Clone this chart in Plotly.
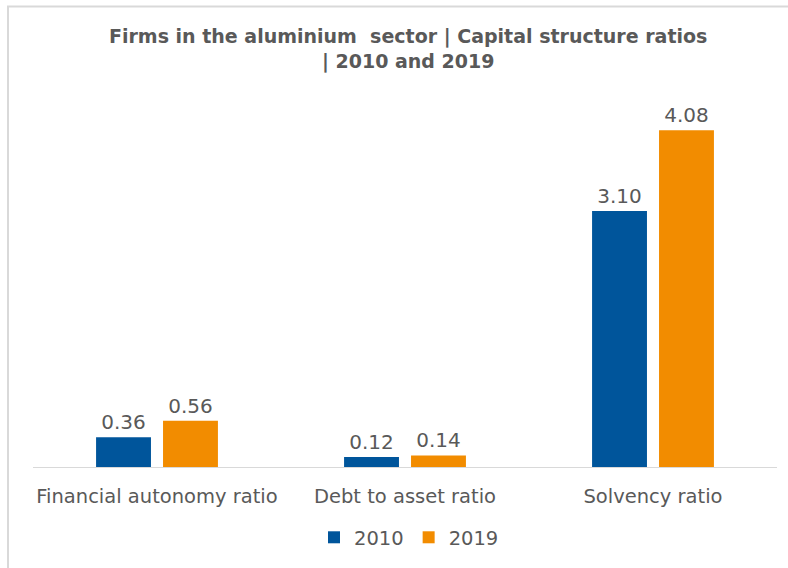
import plotly.graph_objects as go

categories = ["Financial autonomy ratio", "Debt to asset ratio", "Solvency ratio"]
values_2010 = [0.36, 0.12, 3.10]
values_2019 = [0.56, 0.14, 4.08]
series_names = ["2010", "2019"]
title_text = "<b>Firms in the aluminium  sector | Capital structure ratios<br>| 2010 and 2019</b>"

BLUE = "#00559B"
ORANGE = "#F28C00"
TEXT = "#595959"
FONT = "DejaVu Sans"

fig = go.Figure()
for name, vals, color in [(series_names[0], values_2010, BLUE),
                          (series_names[1], values_2019, ORANGE)]:
    fig.add_trace(go.Bar(
        x=categories, y=vals, name=name,
        marker=dict(color=color, line=dict(width=0)),
        texttemplate="%{y:.2f}", textposition="outside",
        textfont=dict(family=FONT, size=20, color=TEXT),
        cliponaxis=False,
    ))

L, R, T, B = 33, 11, 100, 99
W, H = 788, 568
pw, ph = W - L - R, H - T - B

fig.update_layout(
    width=W, height=H,
    margin=dict(l=L, r=R, t=T, b=B),
    paper_bgcolor="white", plot_bgcolor="white",
    barmode="group", bargap=0.46, bargroupgap=0.18,
    xaxis=dict(
        showline=True, linecolor="#D9D9D9", linewidth=1,
        ticks="", tickfont=dict(family=FONT, size=19.5, color=TEXT),
        ticklabelstandoff=12,
    ),
    yaxis=dict(range=[0, ph / 83.0], visible=False, showgrid=False),
    legend=dict(
        orientation="h", x=(409 - L) / pw, xanchor="center",
        y=-(540 - (H - B)) / ph, yanchor="middle",
        font=dict(family=FONT, size=19.5, color=TEXT),
        itemwidth=30, traceorder="normal",
    ),
    showlegend=True,
)

# two-line chart heading
fig.add_annotation(
    text=title_text, showarrow=False,
    xref="paper", yref="paper",
    x=(408 - L) / pw, xanchor="center",
    y=1 + (T - 49) / ph, yanchor="middle",
    font=dict(family=FONT, size=19, color=TEXT),
)

# light frame around the chart area
fig.add_shape(type="rect", xref="paper", yref="paper",
              x0=(8 - L) / pw, x1=(W + 5 - L) / pw,
              y0=-(H + 5 - (H - B)) / ph, y1=1 + (T - 6) / ph,
              line=dict(color="#D9D9D9", width=2), fillcolor="rgba(0,0,0,0)",
              layer="below")

fig.write_html("out.html")
